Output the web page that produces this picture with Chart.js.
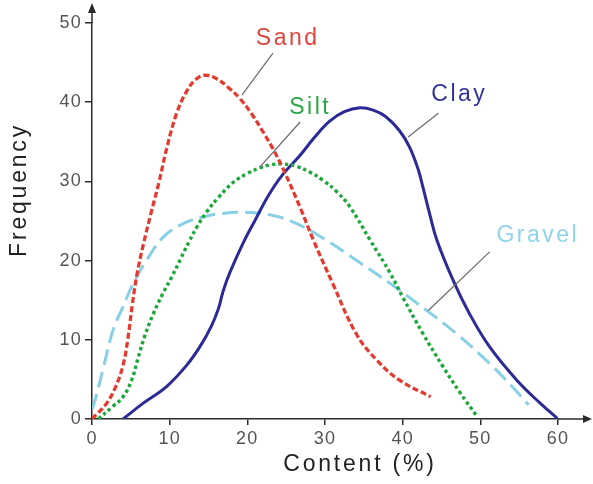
<!DOCTYPE html>
<html><head><meta charset="utf-8">
<script src="https://cdn.jsdelivr.net/npm/chart.js@4.4.1/dist/chart.umd.min.js"></script>
<style>html,body{margin:0;padding:0;background:#fff;}</style>
</head><body>
<canvas id="c" width="593" height="484" style="width:593px;height:484px;display:block"></canvas>
<script>
// ---- data ----
const sandX = [0, 1.9, 3.1, 4.0, 4.6, 5.2, 5.8, 6.6, 7.6, 8.6, 9.7, 10.9, 12.2, 13.4, 14.6, 16.0, 17.5, 19.0, 20.5, 21.8, 23.2, 24.6, 26.8, 28.5, 31.0, 34.0, 36.7, 39.6, 43.6];
const sandY = [0, 2.0, 4.2, 6.8, 10.0, 14.5, 18.3, 22.0, 26.0, 29.8, 34.5, 38.6, 41.4, 42.9, 43.4, 43.0, 41.9, 40.5, 38.6, 36.6, 34.3, 31.6, 26.7, 22.6, 17.1, 10.8, 7.4, 4.9, 2.8];

const siltX = [0.8, 2.7, 4.0, 5.1, 5.9, 6.8, 7.9, 9.1, 10.3, 11.4, 12.5, 13.6, 14.8, 16.3, 18.2, 20.0, 21.6, 23.0, 24.6, 26.3, 28.0, 29.8, 31.5, 33.2, 35.8, 38.4, 40.0, 42.6, 45.2, 47.4, 49.6];
const siltY = [0, 1.6, 2.8, 4.9, 7.6, 10.5, 13.3, 15.8, 18.0, 20.2, 22.4, 24.4, 26.2, 28.0, 29.9, 31.0, 31.7, 32.1, 32.2, 31.9, 31.2, 30.1, 28.7, 26.8, 22.6, 18.4, 15.4, 10.8, 6.6, 3.3, 0.3];

const clayX = [4.0, 6.6, 9.6, 12.2, 14.0, 15.4, 16.3, 16.9, 17.8, 19.5, 21.0, 22.7, 24.5, 26.8, 28.6, 30.6, 32.5, 34.5, 36.2, 37.8, 39.6, 40.9, 42.0, 42.6, 43.5, 44.4, 46.5, 48.6, 51.2, 54.7, 57.7, 60.0];
const clayY = [0, 2.0, 4.1, 6.8, 9.3, 11.8, 14.0, 16.2, 18.6, 22.3, 25.1, 28.2, 30.8, 33.3, 35.5, 37.6, 38.8, 39.3, 39.0, 38.2, 36.4, 34.3, 31.5, 29.3, 25.8, 22.6, 17.5, 13.3, 9.1, 4.9, 2.0, 0];

const gravelX = [0, 0.4, 1.5, 2.7, 4.0, 5.3, 7.0, 9.2, 11.8, 14.3, 16.3, 19.5, 23.3, 26.5, 29.8, 34.1, 38.4, 43.1, 46.9, 51.2, 54.0, 56.2];
const gravelY = [1.2, 2.4, 6.6, 11.2, 14.2, 17.1, 20.0, 23.0, 24.7, 25.5, 25.9, 26.1, 25.7, 24.6, 22.8, 20.0, 17.1, 13.7, 10.8, 7.0, 4.2, 1.8];

const xTicks = [0, 10, 20, 30, 40, 50, 60];
const yTicks = [0, 10, 20, 30, 40, 50];
const xTitle = 'Content (%)';
const yTitle = 'Frequency';

const seriesNames = ['Sand', 'Silt', 'Clay', 'Gravel'];
// annotation anchors, in data units: label centre, leader start, leader end
const labelAtX = [25.2, 28.1, 47.3, 57.4];
const labelAtY = [48.0, 39.3, 41.0, 23.2];
const leaderFromX = [23.3, 26.8, 44.6, 51.2];
const leaderFromY = [46.2, 37.5, 38.6, 21.1];
const leaderToX = [19.3, 21.6, 40.7, 43.3];
const leaderToY = [40.9, 31.8, 35.6, 13.7];

// ---- styles ----
const lineColors = ['#e23b30', '#1ea83c', '#2b2a96', '#88d0e6'];
const textColors = ['#e0453c', '#2aa548', '#34349c', '#8fd4e8'];
const dashes = [[6, 3], [3.4, 3], [], [16, 7]];
const widths = [3.3, 3.4, 3, 3];
const FONT = "'Liberation Sans', Arial, Helvetica, sans-serif";

function pts(xs, ys) { return xs.map((x, i) => ({ x: x, y: ys[i] })); }
const allX = [sandX, siltX, clayX, gravelX];
const allY = [sandY, siltY, clayY, gravelY];

const datasets = seriesNames.map((n, i) => ({
  label: n,
  data: pts(allX[i], allY[i]),
  borderColor: lineColors[i],
  borderWidth: widths[i],
  borderDash: dashes[i],
  pointRadius: 0,
  fill: false,
  tension: 0.4,
  borderCapStyle: 'butt'
}));

function setSpacing(ctx, v) { try { ctx.letterSpacing = v; } catch (e) {} }

const spacingPlugin = {
  id: 'spacing',
  beforeDraw(chart) { setSpacing(chart.ctx, '1.2px'); }
};

const decoPlugin = {
  id: 'deco',
  afterDraw(chart) {
    const ctx = chart.ctx;
    const xs = chart.scales.x, ys = chart.scales.y;
    const a = chart.chartArea;
    const axisY = ys.getPixelForValue(0);
    const axisX = xs.getPixelForValue(0);
    ctx.save();
    ctx.strokeStyle = '#2a2a2a';
    ctx.fillStyle = '#2a2a2a';
    ctx.lineWidth = 1.5;
    // x axis extension + arrow
    ctx.beginPath();
    ctx.moveTo(a.right, axisY);
    ctx.lineTo(a.right + 28, axisY);
    ctx.stroke();
    ctx.beginPath();
    ctx.moveTo(a.right + 34, axisY);
    ctx.lineTo(a.right + 25, axisY - 4);
    ctx.lineTo(a.right + 25, axisY + 4);
    ctx.closePath();
    ctx.fill();
    // y axis extension + arrow
    ctx.beginPath();
    ctx.moveTo(axisX, a.top);
    ctx.lineTo(axisX, a.top - 12);
    ctx.stroke();
    ctx.beginPath();
    ctx.moveTo(axisX, a.top - 20);
    ctx.lineTo(axisX - 4, a.top - 10);
    ctx.lineTo(axisX + 4, a.top - 10);
    ctx.closePath();
    ctx.fill();

    // leader lines
    ctx.strokeStyle = '#6a6a6a';
    ctx.lineWidth = 1.2;
    for (let i = 0; i < seriesNames.length; i++) {
      ctx.beginPath();
      ctx.moveTo(xs.getPixelForValue(leaderFromX[i]), ys.getPixelForValue(leaderFromY[i]));
      ctx.lineTo(xs.getPixelForValue(leaderToX[i]), ys.getPixelForValue(leaderToY[i]));
      ctx.stroke();
    }
    // series labels
    setSpacing(ctx, '2.5px');
    ctx.font = '23px ' + FONT;
    ctx.textAlign = 'center';
    ctx.textBaseline = 'middle';
    for (let i = 0; i < seriesNames.length; i++) {
      ctx.fillStyle = textColors[i];
      ctx.fillText(seriesNames[i], xs.getPixelForValue(labelAtX[i]), ys.getPixelForValue(labelAtY[i]));
    }
    // axis titles
    ctx.fillStyle = '#222';
    setSpacing(ctx, '2.8px');
    ctx.fillText(xTitle, a.left + 268, a.bottom + 46);
    ctx.translate(20, a.top + 167);
    ctx.rotate(-Math.PI / 2);
    ctx.fillText(yTitle, 0, 0);
    ctx.restore();
  }
};

new Chart(document.getElementById('c'), {
  type: 'line',
  data: { datasets: datasets },
  plugins: [spacingPlugin, decoPlugin],
  options: {
    responsive: false,
    animation: false,
    devicePixelRatio: 1,
    layout: { padding: { top: 23, right: 35, left: 0, bottom: 0 } },
    plugins: { legend: { display: false }, tooltip: { enabled: false } },
    scales: {
      x: {
        type: 'linear', min: 0, max: 60,
        afterBuildTicks: s => { s.ticks = xTicks.map(v => ({ value: v })); },
        afterFit: s => { s.height = 65; },
        ticks: { font: { family: FONT, size: 18 }, color: '#555', padding: 3, maxRotation: 0, autoSkip: false },
        grid: { drawOnChartArea: false, drawTicks: true, tickLength: 6, color: '#2a2a2a', lineWidth: 1.5 },
        border: { color: '#2a2a2a', width: 1.5 }
      },
      y: {
        type: 'linear', min: 0, max: 50,
        afterBuildTicks: s => { s.ticks = yTicks.map(v => ({ value: v })); },
        afterFit: s => { s.width = 92; },
        ticks: { font: { family: FONT, size: 18 }, color: '#555', padding: 3, autoSkip: false },
        grid: { drawOnChartArea: false, drawTicks: true, tickLength: 7, color: '#2a2a2a', lineWidth: 1.5 },
        border: { color: '#2a2a2a', width: 1.5 }
      }
    }
  }
});
</script>
</body></html>
